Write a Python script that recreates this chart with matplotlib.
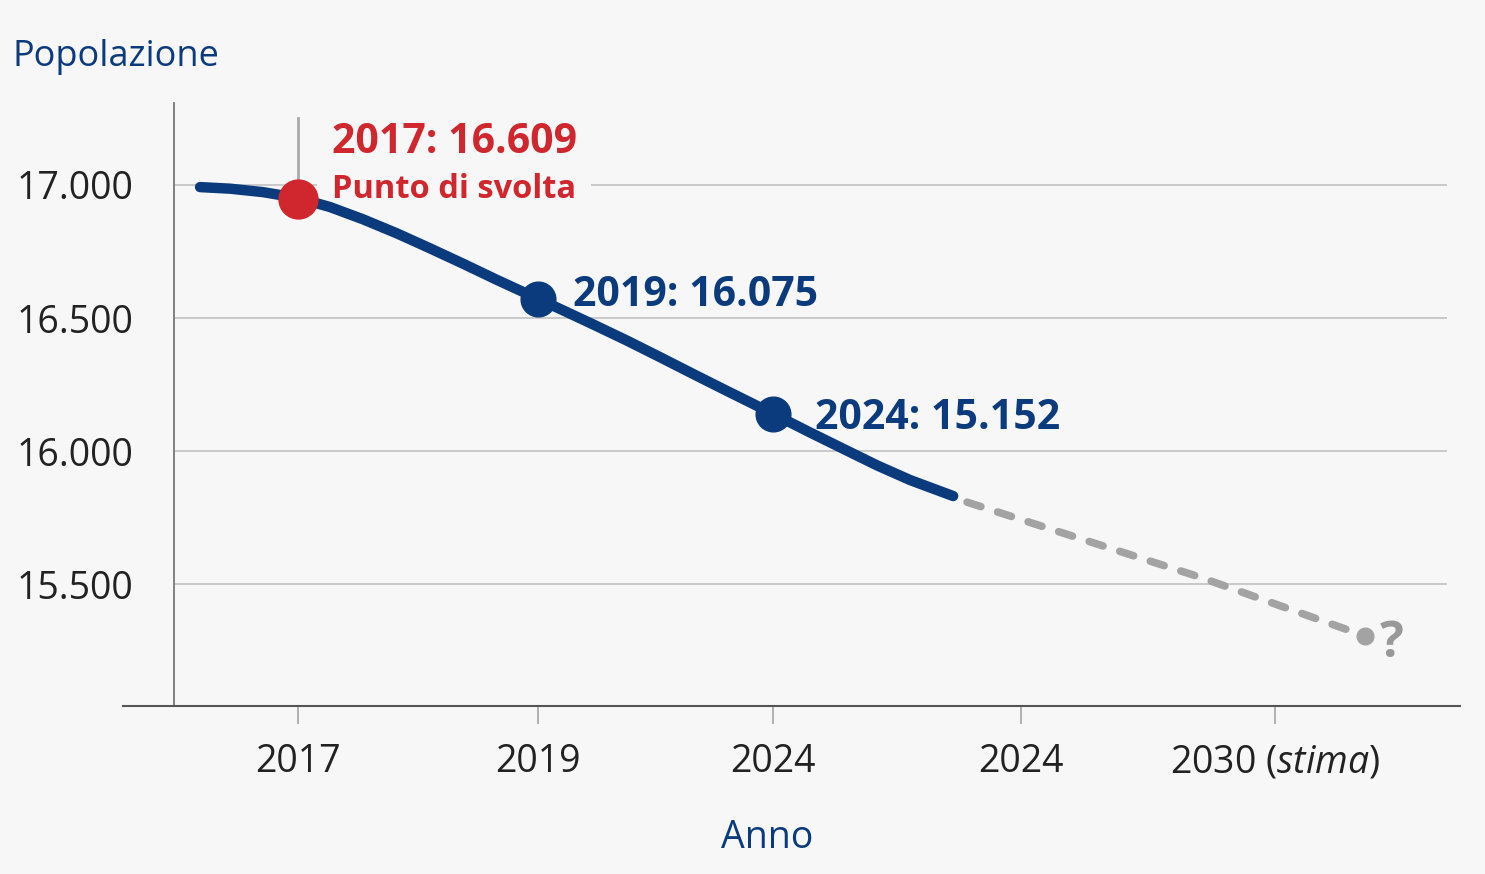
import matplotlib
matplotlib.use("Agg")
import matplotlib.pyplot as plt

# font: Open Sans looks close enough to the condensed original
plt.rcParams['font.family'] = ['Open Sans', 'DejaVu Sans']
plt.rcParams['mathtext.fontset'] = 'custom'
plt.rcParams['mathtext.rm'] = 'Open Sans'
plt.rcParams['mathtext.it'] = 'Open Sans:italic'

# --- data ---
tick_pos = [0, 0.983, 1.945, 2.96, 4.0]
tick_labels = ['2017', '2019', '2024', '2024', r'2030 $\mathit{(stima)}$']
y_ticks = [15500, 16000, 16500, 17000]
y_tick_labels = ['15.500', '16.000', '16.500', '17.000']

curve_x = [-0.401, -0.278, -0.143, 0, 0.131, 0.266, 0.405, 0.540, 0.676,
           0.815, 0.983, 1.073, 1.208, 1.347, 1.482, 1.617, 1.756, 1.945,
           2.096, 2.231, 2.371, 2.506, 2.682]
curve_y = [16992, 16986, 16973, 16951, 16917, 16871, 16818, 16762, 16704,
           16643, 16572, 16534, 16476, 16415, 16353, 16290, 16226, 16140,
           16070, 16009, 15946, 15891, 15831]

forecast_x = [2.739, 3.693, 4.368]
forecast_y = [15808, 15526, 15305]

red_x, red_y = 0, 16946
blue_x = [0.983, 1.945]
blue_y = [16572, 16140]

ann_red = '2017: 16.609'
ann_red_sub = 'Punto di svolta'
ann_blue = ['2019: 16.075', '2024: 15.152']

NAVY = '#0c3b7d'
RED = '#d0262d'
GREY = '#a3a3a3'
BG = '#f7f7f7'

fig = plt.figure(figsize=(14.85, 8.74), dpi=100, facecolor=BG)
ax = fig.add_axes([174 / 1485, 1 - 706 / 874, 1286 / 1485, 603 / 874])
ax.set_facecolor('none')
ax.set_xlim(-0.5077, 4.757)
ax.set_ylim(15042, 17308)

# grid
ax.hlines(y_ticks, -0.5077, 4.704, color='#c6c6c6', lw=1.3, zorder=1)

# spines
for s in ['top', 'right']:
    ax.spines[s].set_visible(False)
ax.spines['left'].set_color('#777777')
ax.spines['left'].set_linewidth(1.3)
ax.spines['bottom'].set_color('#555555')
ax.spines['bottom'].set_linewidth(1.5)
ax.plot([-52 / 1286, 0], [0, 0], transform=ax.transAxes, color='#555555',
        lw=1.5, clip_on=False, solid_capstyle='butt')

ax.set_xticks(tick_pos)
ax.set_xticklabels(tick_labels)
ax.set_yticks(y_ticks)
ax.set_yticklabels(y_tick_labels)
ax.tick_params(axis='x', length=13, width=1.3, color='#aaaaaa', pad=14,
               labelsize=27, labelcolor='#222222')
ax.tick_params(axis='y', length=0, pad=29, labelsize=27, labelcolor='#222222')

# lines
ax.plot([red_x, red_x], [red_y, 17252], color='#aaaaaa', lw=2, zorder=2)
ax.plot(curve_x, curve_y, color=NAVY, lw=7.5, solid_capstyle='round',
        solid_joinstyle='round', zorder=4)
ax.plot(forecast_x, forecast_y, color=GREY, lw=5.5, dashes=(1.9, 2.3),
        dash_capstyle='round', zorder=3)
ax.plot(forecast_x[-1], forecast_y[-1], 'o', color=GREY, ms=12, zorder=3)

ax.plot(red_x, red_y, 'o', color=RED, ms=28, zorder=5)
ax.plot(blue_x, blue_y, 'o', color=NAVY, ms=25, zorder=5)

# annotations
ax.text(0.139, 17120, ann_red, color=RED, fontsize=29.5, fontweight='bold',
        va='baseline', ha='left', zorder=6)
ax.text(0.139, 16951, ann_red_sub, color=RED, fontsize=23.5, fontweight='bold',
        va='baseline', ha='left', zorder=2.5,
        bbox=dict(boxstyle='square,pad=0.45', facecolor=BG, edgecolor='none'))
ax.text(1.126, 16545, ann_blue[0], color=NAVY, fontsize=29.5, fontweight='bold',
        va='baseline', ha='left', zorder=6)
ax.text(2.117, 16083, ann_blue[1], color=NAVY, fontsize=29.5, fontweight='bold',
        va='baseline', ha='left', zorder=6)
ax.text(4.43, 15225, '?', color='#999999', fontsize=36, fontweight='bold',
        va='baseline', ha='left', zorder=6)

fig.text(12 / 1485, 1 - 66 / 874, 'Popolazione', color=NAVY, fontsize=26,
         va='baseline', ha='left')
fig.text(767 / 1485, 1 - 838 / 874, 'Anno', color=NAVY, fontsize=27,
         va='center', ha='center')

fig.savefig('out.png', dpi=100, facecolor=BG)
